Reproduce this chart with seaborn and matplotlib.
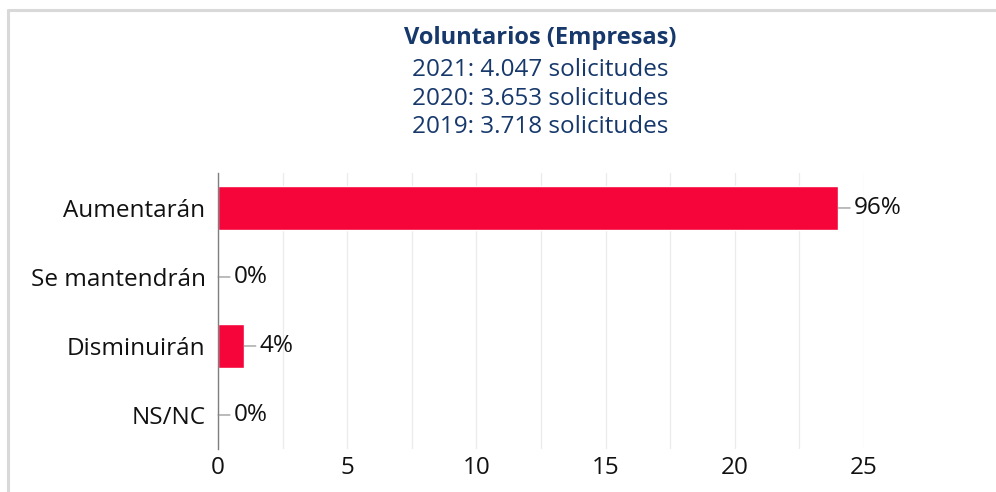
import matplotlib
matplotlib.use("Agg")
import matplotlib.pyplot as plt
import seaborn as sns
import pandas as pd
from matplotlib.lines import Line2D

# data
categorias = ["Aumentarán", "Se mantendrán", "Disminuirán", "NS/NC"]
valores = [24, 0, 1, 0]
etiquetas = ["96%", "0%", "4%", "0%"]
titulo = "Voluntarios (Empresas)"
subtitulos = ["2021: 4.047 solicitudes", "2020: 3.653 solicitudes", "2019: 3.718 solicitudes"]
xticks = [0, 5, 10, 15, 20, 25]

sns.set_style("white")
plt.rcParams["font.family"] = ["Open Sans", "DejaVu Sans"]

df = pd.DataFrame({"categoria": categorias, "valor": valores})

fig = plt.figure(figsize=(9.96, 4.92), dpi=100)
ax = fig.add_axes([0.2189, 0.0864, 0.6486, 0.561])

sns.barplot(data=df, x="valor", y="categoria", color="#F5053A", width=0.63,
            saturation=1, ax=ax)

ax.set_xlim(0, 25)
ax.set_xticks(xticks)
ax.set_xticks([x + 2.5 for x in xticks[:-1]], minor=True)
ax.grid(axis="x", which="both", color="#ebebeb", linewidth=0.9)
ax.set_axisbelow(True)
ax.set_xlabel("")
ax.set_ylabel("")
ax.tick_params(axis="both", labelsize=17.5, length=0, colors="#111111")
ax.tick_params(axis="y", pad=9)
ax.tick_params(axis="x", pad=5)
for s in ["top", "right", "bottom"]:
    ax.spines[s].set_visible(False)
ax.spines["left"].set_color("#7f7f7f")
ax.spines["left"].set_linewidth(1.0)

for i, (v, lab) in enumerate(zip(valores, etiquetas)):
    ax.annotate(lab, xy=(v, i), xytext=(11, 0), textcoords="offset points",
                ha="left", va="center", fontsize=17.5, color="#111111",
                arrowprops=dict(arrowstyle="-", color="#888888", lw=0.8,
                                shrinkA=0, shrinkB=0))

# title block
fig.text(0.542, 0.922, titulo, ha="center", va="center", fontsize=17,
         fontweight="bold", color="#16386B")
for k, t in enumerate(subtitulos):
    fig.text(0.542, 0.857 - k * 0.0575, t, ha="center", va="center",
             fontsize=17.5, color="#16386B")

# light frame at top and left
fig.add_artist(Line2D([0.0085, 1.0], [0.9805, 0.9805], color="#d9d9d9", lw=2.2,
                      transform=fig.transFigure))
fig.add_artist(Line2D([0.0085, 0.0085], [0.0, 0.9805], color="#d9d9d9", lw=2.2,
                      transform=fig.transFigure))

fig.savefig("out.png", dpi=100)
